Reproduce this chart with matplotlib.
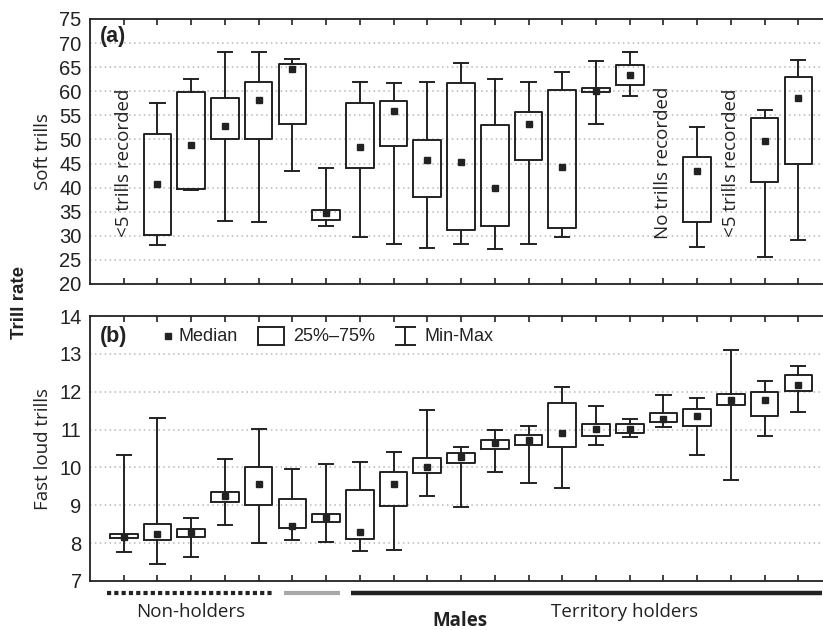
import matplotlib
matplotlib.use("Agg")
import matplotlib.pyplot as plt
from matplotlib.patches import Rectangle
from matplotlib.lines import Line2D
import matplotlib.transforms as mtransforms

# ---------------- data ----------------
slots = list(range(1, 22))

soft_min = [None, 28.1, 39.6, 33.1, 32.9, 43.5, 32.0, 29.7, 28.4, 27.5, 28.2, 27.2, 28.3, 29.7, 53.2, 59.1, None, 27.7, None, 25.7, 29.2]
soft_q1  = [None, 30.1, 39.8, 50.0, 50.0, 53.3, 33.3, 44.1, 48.6, 38.1, 31.2, 32.1, 45.8, 31.7, 59.8, 61.4, None, 32.9, None, 41.2, 45.0]
soft_med = [None, 40.7, 48.9, 52.8, 58.2, 64.6, 34.8, 48.5, 56.0, 45.7, 45.3, 40.0, 53.2, 44.3, 60.0, 63.4, None, 43.5, None, 49.7, 58.5]
soft_q3  = [None, 51.2, 59.8, 58.5, 61.9, 65.6, 35.3, 57.6, 58.0, 49.9, 61.8, 53.0, 55.7, 60.3, 60.7, 65.4, None, 46.3, None, 54.4, 63.0]
soft_max = [None, 57.5, 62.5, 68.1, 68.1, 66.8, 44.0, 61.9, 61.8, 62.0, 65.9, 62.5, 62.0, 64.1, 66.3, 68.1, None, 52.5, None, 56.1, 66.5]

soft_notes = {1: "<5 trills recorded", 17: "No trills recorded", 19: "<5 trills recorded"}

loud_min = [7.76, 7.44, 7.63, 8.47, 8.00, 8.09, 8.04, 7.80, 7.82, 9.25, 8.95, 9.88, 9.60, 9.45, 10.60, 10.80, 11.07, 10.34, 9.68, 10.84, 11.46]
loud_q1  = [8.13, 8.07, 8.15, 9.10, 9.00, 8.40, 8.56, 8.11, 8.98, 9.84, 10.13, 10.49, 10.59, 10.54, 10.84, 10.92, 11.20, 11.09, 11.66, 11.36, 12.03]
loud_med = [8.17, 8.24, 8.29, 9.25, 9.56, 8.46, 8.69, 8.29, 9.56, 10.01, 10.28, 10.65, 10.73, 10.92, 11.01, 11.01, 11.28, 11.37, 11.79, 11.79, 12.19]
loud_q3  = [8.24, 8.51, 8.38, 9.36, 10.02, 9.16, 8.78, 9.40, 9.88, 10.26, 10.39, 10.73, 10.85, 11.69, 11.15, 11.14, 11.43, 11.55, 11.93, 11.98, 12.43]
loud_max = [10.34, 11.30, 8.66, 10.21, 11.02, 9.97, 10.09, 10.15, 10.41, 11.53, 10.55, 10.98, 11.09, 12.12, 11.63, 11.28, 11.91, 11.83, 13.09, 12.27, 12.68]

groups = [("Non-holders", 1, 5), ("", 6, 7), ("Territory holders", 8, 21)]

# ---------------- style ----------------
INK = "#222222"
plt.rcParams["font.family"] = ["Liberation Sans", "DejaVu Sans"]
OPEN = ["Open Sans", "DejaVu Sans"]

fig = plt.figure(figsize=(8.23, 6.30), dpi=100)
W, H = 823, 630
XMAX = 21.73

def add_ax(top_px, bot_px):
    return fig.add_axes([90 / W, 1 - bot_px / H, 1 - 90 / W, (bot_px - top_px) / H])

axA = add_ax(19, 284)
axB = add_ax(316, 581)


def draw(ax, mins, q1s, meds, q3s, maxs):
    stats, pos = [], []
    for p, lo, a, m, b, hi in zip(slots, mins, q1s, meds, q3s, maxs):
        if m is None:
            continue
        stats.append(dict(med=m, q1=a, q3=b, whislo=lo, whishi=hi, fliers=[]))
        pos.append(p)
    lp = dict(color=INK, linewidth=1.4)
    ax.bxp(stats, positions=pos, widths=0.82, showfliers=False,
           boxprops=lp, whiskerprops=lp, capprops=lp,
           medianprops=dict(visible=False), capwidths=0.42,
           manage_ticks=False)
    ax.plot(pos, [s["med"] for s in stats], linestyle="none", marker="s",
            markersize=3.8, color=INK, zorder=5)


def style(ax, ylo, yhi, step, ylabel):
    ax.set_xlim(0, XMAX)
    ax.set_ylim(ylo, yhi)
    ticks = list(range(ylo, yhi + 1, step))
    ax.set_yticks(ticks)
    ax.set_xticks(slots)
    ax.set_xticklabels([])
    ax.tick_params(axis="x", direction="in", length=4, width=1.2, top=True, bottom=True, color=INK)
    ax.tick_params(axis="y", length=0, pad=6, labelsize=14.5, labelcolor=INK)
    ax.grid(axis="y", color="#b8b8b8", linestyle=(0, (1, 2.2)), linewidth=1.1)
    ax.set_axisbelow(True)
    for s in ["top", "left", "bottom"]:
        ax.spines[s].set_linewidth(1.3)
        ax.spines[s].set_color(INK)
    ax.spines["right"].set_visible(False)
    ax.set_ylabel(ylabel, fontsize=13.5, color=INK, labelpad=5, family=OPEN)


draw(axA, soft_min, soft_q1, soft_med, soft_q3, soft_max)
style(axA, 20, 75, 5, "Soft trills")
for p, txt in soft_notes.items():
    axA.text(p, 45.2, txt, rotation=90, ha="center", va="center", fontsize=13.5,
             color=INK, family=OPEN)
axA.text(0.28, 71.3, "(a)", fontsize=15.5, fontweight="bold", va="center", ha="left", color=INK)

draw(axB, loud_min, loud_q1, loud_med, loud_q3, loud_max)
style(axB, 7, 14, 1, "Fast loud trills")
axB.text(0.28, 13.47, "(b)", fontsize=15.5, fontweight="bold", va="center", ha="left", color=INK)

# legend glyphs
ly = 13.47
axB.plot([2.3], [ly], linestyle="none", marker="s", markersize=4.2, color=INK)
axB.text(2.62, ly, "Median", fontsize=13, va="center", ha="left", color=INK)
axB.add_patch(Rectangle((4.98, 13.24), 0.78, 0.47, facecolor="white", edgecolor=INK, linewidth=1.4))
axB.text(6.02, ly, "25%\u201375%", fontsize=13, va="center", ha="left", color=INK)
axB.plot([9.34, 9.34], [13.24, 13.71], color=INK, linewidth=1.4)
axB.plot([9.06, 9.62], [13.71, 13.71], color=INK, linewidth=1.4)
axB.plot([9.06, 9.62], [13.24, 13.24], color=INK, linewidth=1.4)
axB.text(9.93, ly, "Min-Max", fontsize=13, va="center", ha="left", color=INK)

# group lines under panel b
trans = mtransforms.blended_transform_factory(axB.transData, fig.transFigure)
gy = 1 - 593 / H
styles = [dict(color=INK, linestyle=(0, (1.0, 0.75)), linewidth=3.0, solid_capstyle="butt", dash_capstyle="butt"),
          dict(color="#a8a8a8", linestyle="-", linewidth=3.0, solid_capstyle="butt"),
          dict(color=INK, linestyle="-", linewidth=3.2, solid_capstyle="butt")]
starts = [-0.5, -0.25, -0.25]
ends = [0.45, 0.4, None]
for (name, a, b), st, s0, e0 in zip(groups, styles, starts, ends):
    x1 = b + e0 if e0 is not None else XMAX - 0.03
    fig.add_artist(Line2D([a + s0, x1], [gy, gy], transform=trans, **st))
    if name:
        xc = (a + s0 + x1) / 2 if name == "Non-holders" else 15.85
        fig.text(xc, 1 - 612 / H, name, transform=trans, ha="center", va="center",
                 fontsize=13.5, color=INK, family=OPEN)

fig.text(460 / W, 1 - 621 / H, "Males", ha="center", va="center", fontsize=13.5,
         fontweight="bold", color=INK, family=OPEN)
fig.text(19 / W, 1 - 302 / H, "Trill rate", ha="center", va="center", rotation=90,
         fontsize=13.5, fontweight="bold", color=INK)

fig.savefig("out.png", dpi=100)
